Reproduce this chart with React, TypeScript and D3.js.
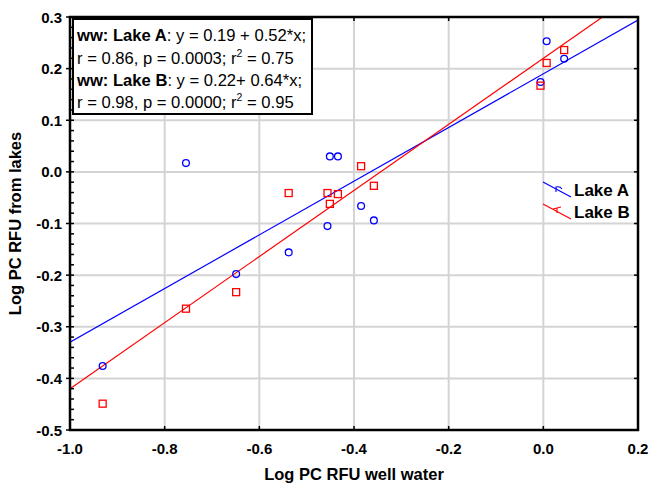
import React, { useEffect, useRef } from 'react'
import * as d3 from 'd3'

// Lake A (blue circles)
const lakeAx = [-0.931, -0.755, -0.649, -0.538, -0.456, -0.451, -0.434, -0.385, -0.358, -0.006, 0.007, 0.044]
const lakeAy = [-0.376, 0.017, -0.198, -0.156, -0.105, 0.030, 0.030, -0.066, -0.094, 0.174, 0.253, 0.219]
// Lake B (red squares)
const lakeBx = [-0.931, -0.755, -0.649, -0.538, -0.456, -0.451, -0.434, -0.385, -0.358, -0.006, 0.007, 0.044]
const lakeBy = [-0.449, -0.265, -0.233, -0.041, -0.041, -0.062, -0.043, 0.011, -0.027, 0.167, 0.211, 0.236]

// fitted lines: y = a + b*x
const fitNames = ['Lake A', 'Lake B']
const fitIntercepts = [0.19, 0.22]
const fitSlopes = [0.52, 0.64]
const fitColors = ['#0000ff', '#ff0000']

const xTicks = [-1.0, -0.8, -0.6, -0.4, -0.2, 0.0, 0.2]
const yTicks = [0.3, 0.2, 0.1, 0.0, -0.1, -0.2, -0.3, -0.4, -0.5]

const statLines = [
  { bold: 'ww: Lake A', rest: ': y = 0.19 + 0.52*x;' },
  { r: 'r = 0.86, p = 0.0003; r', r2: ' = 0.75' },
  { bold: 'ww: Lake B', rest: ': y = 0.22+ 0.64*x;' },
  { r: 'r = 0.98, p = 0.0000; r', r2: ' = 0.95' }
]

const W = 652
const H = 483
const font = '"Liberation Sans", Arial, sans-serif'

export default function App () {
  const ref = useRef(null)

  useEffect(() => {
    const svg = d3.select(ref.current)
    svg.selectAll('*').remove()

    const left = 70
    const right = 638
    const top = 17
    const bottom = 430

    const x = d3.scaleLinear().domain([-1.0, 0.2]).range([left, right])
    const y = d3.scaleLinear().domain([-0.5, 0.3]).range([bottom, top])

    svg.append('rect').attr('width', W).attr('height', H).attr('fill', '#fff')

    svg.append('clipPath').attr('id', 'plotclip')
      .append('rect')
      .attr('x', left).attr('y', top)
      .attr('width', right - left).attr('height', bottom - top)

    // grid
    const grid = svg.append('g').attr('stroke', '#d4d4d4').attr('stroke-width', 2)
    grid.selectAll('.gx')
      .data(xTicks.slice(1, -1))
      .enter().append('line')
      .attr('x1', d => x(d)).attr('x2', d => x(d))
      .attr('y1', top).attr('y2', bottom)
    grid.selectAll('.gy')
      .data(yTicks.slice(1, -1))
      .enter().append('line')
      .attr('y1', d => y(d)).attr('y2', d => y(d))
      .attr('x1', left).attr('x2', right)

    // fitted lines
    const plot = svg.append('g').attr('clip-path', 'url(#plotclip)')
    const line = d3.line().x(d => x(d[0])).y(d => y(d[1]))
    fitIntercepts.forEach((a, i) => {
      const b = fitSlopes[i]
      plot.append('path')
        .datum([[-1.0, a + b * -1.0], [0.2, a + b * 0.2]])
        .attr('d', line)
        .attr('fill', 'none')
        .attr('stroke', fitColors[i])
        .attr('stroke-width', 1.2)
    })

    // points
    plot.selectAll('.ptA')
      .data(d3.zip(lakeAx, lakeAy))
      .enter().append('circle')
      .attr('cx', d => x(d[0]))
      .attr('cy', d => y(d[1]))
      .attr('r', 3.4)
      .attr('fill', 'none')
      .attr('stroke', fitColors[0])
      .attr('stroke-width', 1.3)

    const sq = 7
    plot.selectAll('.ptB')
      .data(d3.zip(lakeBx, lakeBy))
      .enter().append('rect')
      .attr('x', d => x(d[0]) - sq / 2)
      .attr('y', d => y(d[1]) - sq / 2)
      .attr('width', sq).attr('height', sq)
      .attr('fill', 'none')
      .attr('stroke', fitColors[1])
      .attr('stroke-width', 1.3)

    // ticks
    const ticks = svg.append('g').attr('stroke', '#000').attr('stroke-width', 1.5)
    const minor = d3.range(-0.5, 0.3001, 0.02)
    ticks.selectAll('.mn')
      .data(minor)
      .enter().append('line')
      .attr('x1', left).attr('x2', left + 4)
      .attr('y1', d => y(d)).attr('y2', d => y(d))
    ticks.selectAll('.mjl')
      .data(yTicks)
      .enter().append('line')
      .attr('x1', left - 4).attr('x2', left)
      .attr('y1', d => y(d)).attr('y2', d => y(d))
    ticks.selectAll('.mjr')
      .data(yTicks)
      .enter().append('line')
      .attr('x1', right - 4).attr('x2', right)
      .attr('y1', d => y(d)).attr('y2', d => y(d))
    ticks.selectAll('.mjt')
      .data(xTicks)
      .enter().append('line')
      .attr('x1', d => x(d)).attr('x2', d => x(d))
      .attr('y1', top).attr('y2', top + 4)
    ticks.selectAll('.mjb')
      .data(xTicks)
      .enter().append('line')
      .attr('x1', d => x(d)).attr('x2', d => x(d))
      .attr('y1', bottom - 4).attr('y2', bottom)

    // frame
    svg.append('rect')
      .attr('x', left).attr('y', top)
      .attr('width', right - left).attr('height', bottom - top)
      .attr('fill', 'none')
      .attr('stroke', '#000')
      .attr('stroke-width', 2.5)

    // tick labels
    svg.selectAll('.xl')
      .data(xTicks)
      .enter().append('text')
      .attr('x', d => x(d))
      .attr('y', 454)
      .attr('text-anchor', 'middle')
      .attr('font-family', font)
      .attr('font-weight', 'bold')
      .attr('font-size', 15)
      .text(d => d3.format('.1f')(d).replace('−', '-'))

    svg.selectAll('.yl')
      .data(yTicks)
      .enter().append('text')
      .attr('x', 62)
      .attr('y', d => y(d) + 5.5)
      .attr('text-anchor', 'end')
      .attr('font-family', font)
      .attr('font-weight', 'bold')
      .attr('font-size', 15)
      .text(d => d3.format('.1f')(d).replace('−', '-'))

    // axis titles
    svg.append('text')
      .attr('x', (left + right) / 2)
      .attr('y', 480)
      .attr('text-anchor', 'middle')
      .attr('font-family', font)
      .attr('font-weight', 'bold')
      .attr('font-size', 16.5)
      .text('Log PC RFU well water')

    svg.append('text')
      .attr('transform', 'translate(21,' + ((top + bottom) / 2) + ') rotate(-90)')
      .attr('text-anchor', 'middle')
      .attr('font-family', font)
      .attr('font-weight', 'bold')
      .attr('font-size', 16.5)
      .text('Log PC RFU from lakes')

    // stats box
    svg.append('rect')
      .attr('x', 73).attr('y', 19)
      .attr('width', 239).attr('height', 95)
      .attr('fill', '#fff')
      .attr('stroke', '#000')
      .attr('stroke-width', 2)

    const baselines = [41, 64, 86, 108]
    statLines.forEach((s, i) => {
      const t = svg.append('text')
        .attr('x', 77).attr('y', baselines[i])
        .attr('font-family', font)
        .attr('font-size', 16.6)
      if (s.bold) {
        t.append('tspan').attr('font-weight', 'bold').text(s.bold)
        t.append('tspan').text(s.rest)
      } else {
        t.append('tspan').text(s.r)
        t.append('tspan').attr('font-size', 10.5).attr('dy', -7).text('2')
        t.append('tspan').attr('dy', 7).text(s.r2)
      }
    })

    // line legend
    const legY = [190, 212]
    fitNames.forEach((name, i) => {
      const cy = legY[i]
      svg.append('line')
        .attr('x1', 543).attr('y1', cy - 8)
        .attr('x2', 571).attr('y2', cy + 7)
        .attr('stroke', fitColors[i])
        .attr('stroke-width', 1.2)
      svg.append('path')
        .attr('d', i === 0
          ? 'M556,' + (cy + 2) + ' L556,' + (cy - 3) + ' Q560,' + (cy - 4) + ' 562,' + (cy - 1)
          : 'M553,' + (cy - 3) + ' L561,' + (cy - 5) + ' M557,' + (cy - 4) + ' L557,' + (cy + 1))
        .attr('fill', 'none')
        .attr('stroke', fitColors[i])
        .attr('stroke-width', 1.1)
      svg.append('text')
        .attr('x', 574).attr('y', cy + 6)
        .attr('font-family', font)
        .attr('font-weight', 'bold')
        .attr('font-size', 17)
        .text(name)
    })
  }, [])

  return (
    <svg
      ref={ref}
      width={W}
      height={H}
      style={{ position: 'absolute', left: 0, top: 0, display: 'block' }}
    />
  )
}
